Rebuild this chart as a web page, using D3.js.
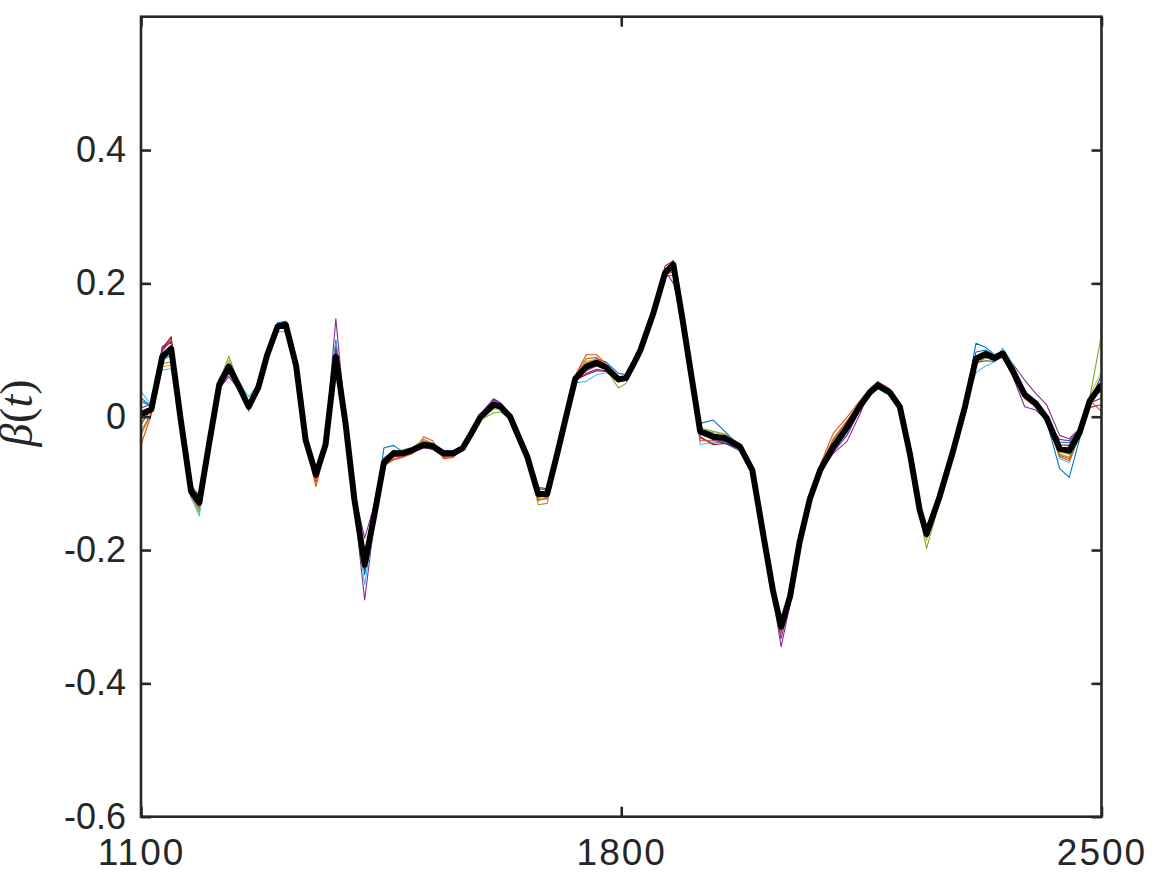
<!DOCTYPE html>
<html><head><meta charset="utf-8">
<script src="https://cdn.jsdelivr.net/npm/d3@7"></script>
<style>body{margin:0;background:#fff;} svg{display:block;}</style>
</head><body><svg id="chart" width="1167" height="875"></svg>
<script>
// ---- data ----
const wavelength = [1100,1115,1131,1144,1158,1173,1185,1199,1214,1228,
 1243,1257,1271,1284,1299,1311,1326,1340,1355,1369,
 1384,1398,1411,1426,1440,1454,1468,1481,1496,1512,
 1525,1541,1555,1569,1582,1595,1614,1624,1638,1650,
 1663,1679,1692,1707,1720,1733,1749,1764,1778,1796,
 1807,1819,1828,1847,1864,1876,1889,1902,1915,1934,
 1951,1973,1991,2007,2021,2033,2046,2060,2075,2090,
 2109,2129,2148,2162,2174,2191,2206,2221,2235,2245,
 2264,2283,2301,2317,2331,2344,2356,2370,2388,2404,
 2420,2439,2453,2468,2483,2500];

// thick black curve: mean estimate of beta(t)
const betaMean = [0.003,0.011,0.090,0.102,-0.005,-0.112,-0.129,-0.042,0.048,0.075,
 0.045,0.015,0.044,0.093,0.135,0.138,0.077,-0.035,-0.087,-0.042,
 0.090,-0.009,-0.124,-0.222,-0.148,-0.069,-0.055,-0.055,-0.050,-0.042,
 -0.044,-0.055,-0.055,-0.047,-0.024,0.000,0.018,0.015,0.000,-0.029,
 -0.060,-0.116,-0.116,-0.054,0.002,0.057,0.075,0.081,0.074,0.056,
 0.058,0.081,0.100,0.156,0.216,0.228,0.148,0.063,-0.022,-0.030,
 -0.032,-0.045,-0.080,-0.177,-0.260,-0.315,-0.270,-0.188,-0.123,-0.080,
 -0.045,-0.016,0.016,0.036,0.047,0.037,0.015,-0.057,-0.140,-0.176,
 -0.120,-0.054,0.015,0.087,0.094,0.088,0.095,0.070,0.033,0.020,
 -0.002,-0.048,-0.051,-0.024,0.024,0.048];

// thin replicate curves: offset from the black curve, in thousandths
const devBlue = [20,5,-5,-10,-3,0,-5,2,8,-2, 2,3,3,2,6,5,3,0,3,5, 25,5,0,-15,-5,22,12,3,0,0,
 2,3,4,3,2,4,8,5,2,0, -3,-5,-2,0,0,3,5,6,8,9, 5,2,0,0,4,4,2,0,12,25,
 10,0,-3,0,3,8,4,0,0,-2, -8,-8,-5,-4,-5,-5,-3,-2,0,-6, -2,0,4,23,10,5,3,2,3,0, -5,-30,-40,-10,5,-10];
const devOrange = [-45,-8,10,15,5,-5,-10,-3,3,0, -2,-7,-2,0,2,0,-2,-5,-18,-5, -5,-5,-8,8,5,-5,-10,-6,-5,12,
 8,-8,-6,-2,0,2,3,2,0,0, 0,-8,-5,0,2,5,18,12,5,2, 0,0,0,-2,-6,-15,-8,-3,-10,-10,
 -4,0,2,2,-3,-10,-4,-2,0,8, 20,15,8,6,6,5,5,6,3,4, 3,2,0,-3,-5,2,0,-4,-6,-5, -4,-10,-12,-4,2,-5];
const devYellow = [-10,-3,-15,-25,-5,-8,-12,3,0,10, 3,0,0,0,2,0,-3,-4,-8,0, -3,3,8,20,10,0,2,4,2,3,
 0,0,0,0,-2,-3,-6,-5,-2,-2, -2,-6,-8,-2,0,2,8,5,2,-4, -3,-2,0,0,-3,-6,-4,0,4,6,
 5,3,0,0,2,-6,0,0,0,2, 8,6,4,3,2,0,2,2,-3,-10, -5,-2,-2,-6,-5,-2,-3,-3,-5,-4, -6,-5,-6,-2,8,20];
const devPurple = [10,8,15,12,4,8,10,-4,-6,-15, -5,0,-3,-2,-3,2,0,4,8,8, 57,5,-8,-53,-10,5,5,0,0,-3,
 -3,2,2,2,2,4,9,6,2,2, 3,8,6,3,0,-3,-10,-10,-5,-3, 0,0,0,0,3,-28,0,5,2,-3,
 -6,-4,-2,-3,-8,-30,-12,-6,-3,-3, -10,-21,-12,4,5,2,-3,-2,2,8, 4,3,2,4,2,0,-2,10,22,15, 20,20,18,6,-10,-30];
const devGreen = [-25,-5,-10,-20,-4,-10,-15,2,5,16, 4,2,0,2,4,0,0,-2,-4,2, 0,-3,5,10,5,3,4,5,4,8,
 4,3,2,0,-2,-5,-12,-8,-3,-2, -2,-16,-14,-4,-2,2,6,3,-3,-13, -8,-3,-2,-3,0,0,0,0,5,8,
 6,4,2,2,4,10,4,0,0,5, 10,8,4,2,1,0,3,0,-8,-22, -8,-4,-3,-8,-6,-3,-3,-4,-4,-3, -3,-8,-10,-3,5,75];
const devCyan = [35,6,-20,-30,-6,-8,-20,-5,10,4, 6,15,5,-4,-8,-10,-5,3,2,4, 20,3,-5,-30,-12,8,3,2,0,0,
 2,4,3,2,2,3,6,4,-3,-5, -5,-4,-3,0,0,-6,-22,-18,-8,0, 2,2,2,3,4,6,2,-5,-20,-8,
 -6,-5,-4,-2,5,12,5,2,0,-2, -5,-6,-4,-2,-4,-4,-2,-2,-2,-4, -2,0,2,-21,-18,-6,8,10,6,3, 3,-15,-18,-5,6,10];
const devRed = [5,3,12,18,6,10,8,0,2,-3, 0,-3,-2,0,0,2,2,-3,-6,-3, 5,-2,-5,-8,-5,-5,-5,-4,-3,-4,
 -5,-5,-4,-3,0,0,0,0,0,0, 2,4,3,2,0,-2,-12,-12,-6,-4, -2,0,0,2,10,6,8,8,-8,-12,
 -8,-2,0,0,0,-4,-2,0,0,3, 5,2,0,-2,-3,-4,3,4,3,6, 2,0,0,2,4,3,2,0,-2,-2, 2,6,8,2,-4,-20];
const devBlue2 = [25,4,5,5,2,-3,-2,3,6,-5, 1,4,2,3,5,3,2,2,4,3, 10,2,2,-5,0,6,3,2,0,2,
 1,2,2,1,0,2,4,3,1,0, -2,2,2,0,0,2,3,4,3,4, 2,0,0,0,2,3,2,0,3,5,
 -8,-6,-3,0,2,4,2,0,0,-3, -6,-5,-3,-2,-2,-2,-2,0,0,-2, 0,0,2,10,6,4,2,3,2,0, -3,10,12,4,-3,15];
const devOrange2 = [-30,-6,8,14,3,-6,-8,-2,1,5, -2,-5,-1,0,1,-2,0,-4,-12,-4, -2,-4,3,15,8,-3,-8,-5,-3,6,
 3,-6,-5,-2,0,0,-3,-2,0,2, 2,-10,-6,0,2,4,12,8,3,0, 0,0,0,-2,-4,-10,-5,-2,-14,-6,
 2,3,2,0,-2,-8,-3,0,0,5, 12,10,5,4,3,4,4,5,2,2, 2,0,0,-4,-3,0,-2,-3,-5,-4, -5,-12,-15,-5,0,-40];
const devPurple2 = [-15,2,12,10,3,5,12,-3,-8,-10, -3,2,-2,-2,-2,0,2,5,6,10, 15,-5,10,40,15,5,2,-2,-2,-5,
 -4,0,0,2,2,3,7,4,2,0, 0,10,8,2,0,-2,-6,-5,-3,-2, 0,0,0,0,5,2,4,6,0,-5,
 -8,-3,0,-2,-5,-18,-8,-4,-2,-4, -8,-12,-6,2,3,-2,-3,-2,2,10, 5,2,0,-6,-10,-5,-5,-8,-18,-10, -3,14,15,5,-6,5];

const replicateDevs = [devBlue, devOrange, devYellow, devPurple, devGreen, devCyan, devRed, devBlue2, devOrange2, devPurple2];
const replicateColors = ["#0072BD","#D95319","#EDB120","#7E2F8E","#77AC30","#4DBEEE","#A2142F","#0072BD","#D95319","#7E2F8E"];

const xTicks = [1100, 1800, 2500];
const yTicks = [-0.6, -0.4, -0.2, 0, 0.2, 0.4];

// ---- drawing ----
const svg = d3.select("#chart");
const L = 141, R = 1101.5, T = 16.7, B = 816.7;
const x = d3.scaleLinear().domain([1100, 2500]).range([L, R]);
const y = d3.scaleLinear().domain([-0.6, 0.6]).range([B, T]);
const axisColor = "#262626";

svg.append("rect").attr("x",0).attr("y",0).attr("width",1167).attr("height",875).attr("fill","#fff");

svg.append("defs").append("clipPath").attr("id","clip")
  .append("rect").attr("x",L).attr("y",T).attr("width",R-L).attr("height",B-T);

const plot = svg.append("g").attr("clip-path","url(#clip)");
const line = d3.line().x(d => x(d[0])).y(d => y(d[1]));

replicateDevs.forEach((dev, k) => {
  const pts = wavelength.map((t, i) => [t, betaMean[i] + dev[i] / 1000]);
  plot.append("path").datum(pts)
    .attr("d", line)
    .attr("fill","none")
    .attr("stroke", replicateColors[k])
    .attr("stroke-width", 1.1)
    .attr("stroke-linejoin","round");
});

plot.append("path").datum(wavelength.map((t, i) => [t, betaMean[i]]))
  .attr("d", line)
  .attr("fill","none")
  .attr("stroke","#000")
  .attr("stroke-width", 6)
  .attr("stroke-linejoin","round");

const fmtY = d => d === 0 ? "0" : d.toFixed(1);
const fontFam = "'Liberation Sans', Arial, Helvetica, sans-serif";

function styleAxis(g, fs, ls) {
  g.select(".domain").remove();
  g.selectAll(".tick line").attr("stroke", axisColor).attr("stroke-width", 2.6);
  g.selectAll(".tick text").attr("fill", axisColor)
    .style("font-family", fontFam).style("font-size", fs + "px")
    .style("letter-spacing", ls + "px");
}

svg.append("g").attr("transform",`translate(${L},0)`)
  .call(d3.axisLeft(y).tickValues(yTicks).tickFormat(fmtY).tickSize(-10).tickPadding(15))
  .call(g => styleAxis(g, 36, 0));
svg.append("g").attr("transform",`translate(${R},0)`)
  .call(d3.axisRight(y).tickValues(yTicks).tickFormat("").tickSize(-10))
  .call(g => styleAxis(g, 36, 0));
svg.append("g").attr("transform",`translate(0,${B})`)
  .call(d3.axisBottom(x).tickValues(xTicks).tickFormat(d3.format("d")).tickSize(-10).tickPadding(22))
  .call(g => styleAxis(g, 37, 2));
svg.append("g").attr("transform",`translate(0,${T})`)
  .call(d3.axisTop(x).tickValues(xTicks).tickFormat("").tickSize(-10))
  .call(g => styleAxis(g, 37, 0));

svg.append("rect").attr("x",L).attr("y",T).attr("width",R-L).attr("height",B-T)
  .attr("fill","none").attr("stroke",axisColor).attr("stroke-width",2.6);

// y label: beta-hat(t), rotated
const yl = svg.append("text")
  .attr("transform", `translate(32,413) rotate(-90)`)
  .attr("text-anchor","middle")
  .attr("fill", axisColor)
  .style("font-family","'Liberation Serif', 'DejaVu Serif', serif")
  .style("font-size","46px");
yl.append("tspan").style("font-style","italic").text("\u03B2");
yl.append("tspan").attr("dx", -19).attr("dy", -11).style("font-size","44px").text("\u02C6");
yl.append("tspan").attr("dx", 5).attr("dy", 11).text("(");
yl.append("tspan").style("font-style","italic").text("t");
yl.append("tspan").text(")");
</script>
</body></html>
